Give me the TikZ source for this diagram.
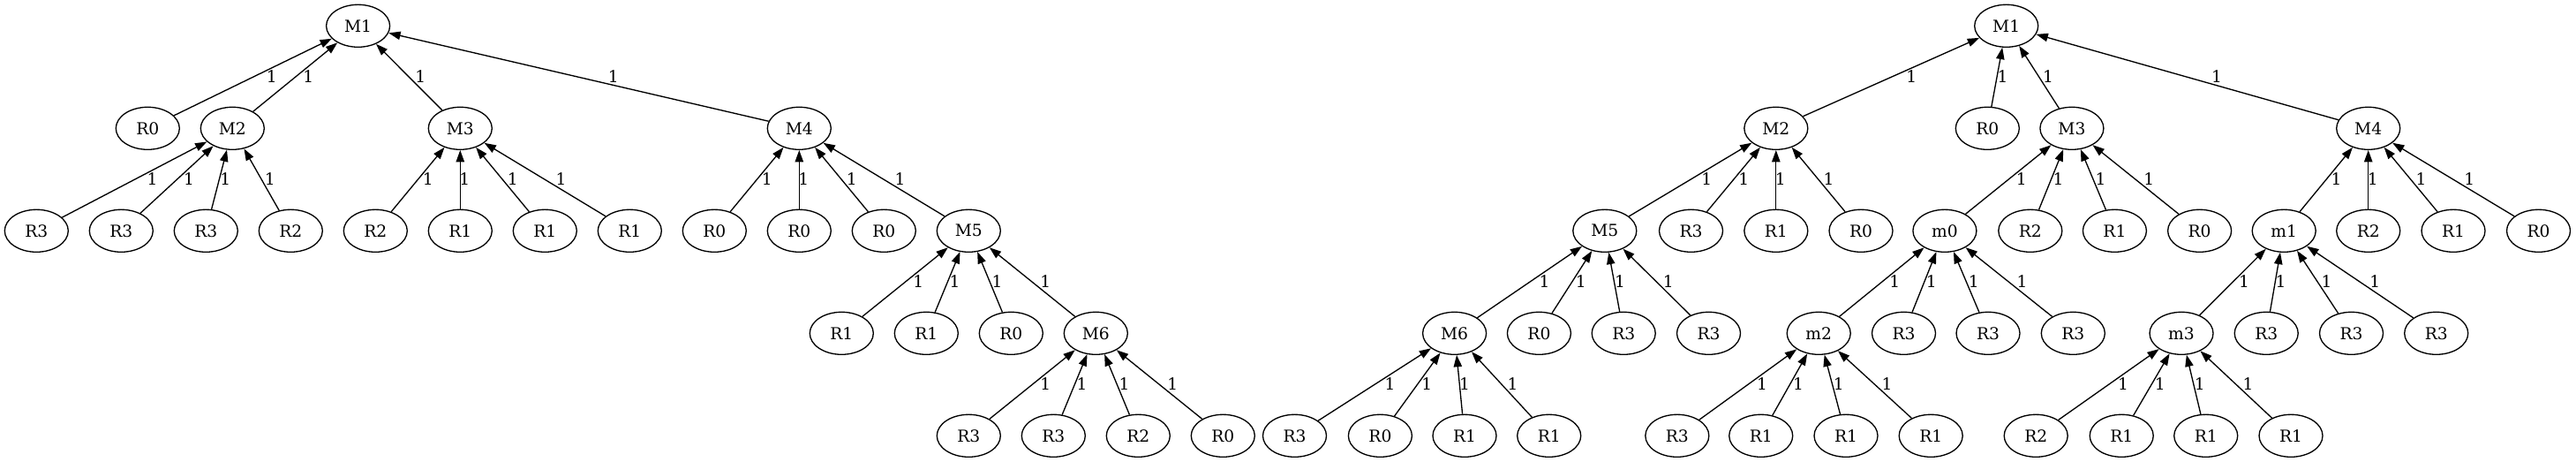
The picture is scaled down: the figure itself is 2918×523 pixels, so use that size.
\documentclass[tikz,border=0pt]{standalone}
\usepackage{fontspec}
\setmainfont{DejaVu Serif}
\usetikzlibrary{shapes.geometric,arrows.meta,calc}
\tikzset{
  tn/.style={draw, ellipse, line width=1pt, minimum width=54pt, minimum height=36pt, inner sep=0pt, font=\fontsize{14}{16}\selectfont},
  edge/.style={line width=1pt, -{Triangle[length=10pt,width=7pt]}},
  lbl/.style={inner sep=0pt, font=\fontsize{14}{16}\selectfont},
}
\newcommand\edg[2]{%
  \draw[edge] (#1) -- (#2);
  \path let \p1=(#1.center), \p2=(#2.center), \n1={abs(\x2-\x1)/abs(\y2-\y1)} in
    node[lbl, xshift={3.75pt+6pt*\n1}, yshift=0.5pt] at ($(#1.center)!0.5!(#2.center)$) {1};
}
\begin{document}
\begin{tikzpicture}[x=0.75pt, y=-0.75pt]
\useasboundingbox (0,0) rectangle (2918,523);
\def\ra{29.3}\def\rb{145.3}\def\rc{261.3}\def\rd{377.3}\def\re{493.3}
% ---------- left tree ----------
\node[tn] (aM1) at (405.6,\ra) {M1};
\node[tn] (aR0) at (167.3,\rb) {R0};
\node[tn] (aM2) at (263.3,\rb) {M2};
\node[tn] (aM3) at (521.3,\rb) {M3};
\node[tn] (aM4) at (905.3,\rb) {M4};
\node[tn] (a31) at (41.3,\rc) {R3};
\node[tn] (a32) at (137.3,\rc) {R3};
\node[tn] (a33) at (233.3,\rc) {R3};
\node[tn] (a34) at (329.3,\rc) {R2};
\node[tn] (a35) at (425.3,\rc) {R2};
\node[tn] (a36) at (521.3,\rc) {R1};
\node[tn] (a37) at (617.3,\rc) {R1};
\node[tn] (a38) at (713.3,\rc) {R1};
\node[tn] (a39) at (809.3,\rc) {R0};
\node[tn] (a310) at (905.3,\rc) {R0};
\node[tn] (a311) at (1001.3,\rc) {R0};
\node[tn] (aM5) at (1097.3,\rc) {M5};
\node[tn] (a41) at (953.3,\rd) {R1};
\node[tn] (a42) at (1049.3,\rd) {R1};
\node[tn] (a43) at (1145.3,\rd) {R0};
\node[tn] (aM6) at (1241.3,\rd) {M6};
\node[tn] (a51) at (1097.3,\re) {R3};
\node[tn] (a52) at (1193.3,\re) {R3};
\node[tn] (a53) at (1289.3,\re) {R2};
\node[tn] (a54) at (1385.3,\re) {R0};
\edg{aR0}{aM1}\edg{aM2}{aM1}\edg{aM3}{aM1}\edg{aM4}{aM1}
\edg{a31}{aM2}\edg{a32}{aM2}\edg{a33}{aM2}\edg{a34}{aM2}
\edg{a35}{aM3}\edg{a36}{aM3}\edg{a37}{aM3}\edg{a38}{aM3}
\edg{a39}{aM4}\edg{a310}{aM4}\edg{a311}{aM4}\edg{aM5}{aM4}
\edg{a41}{aM5}\edg{a42}{aM5}\edg{a43}{aM5}\edg{aM6}{aM5}
\edg{a51}{aM6}\edg{a52}{aM6}\edg{a53}{aM6}\edg{a54}{aM6}
% ---------- right tree ----------
\node[tn] (bM1) at (2272.7,\ra) {M1};
\node[tn] (bM2) at (2011.8,\rb) {M2};
\node[tn] (bR0) at (2251.3,\rb) {R0};
\node[tn] (bM3) at (2346.9,\rb) {M3};
\node[tn] (bM4) at (2682.7,\rb) {M4};
\node[tn] (bM5) at (1817.8,\rc) {M5};
\node[tn] (b32) at (1915.5,\rc) {R3};
\node[tn] (b33) at (2011.8,\rc) {R1};
\node[tn] (b34) at (2108,\rc) {R0};
\node[tn] (bm0) at (2202.9,\rc) {m0};
\node[tn] (b36) at (2299.8,\rc) {R2};
\node[tn] (b37) at (2395.4,\rc) {R1};
\node[tn] (b38) at (2491.6,\rc) {R0};
\node[tn] (bm1) at (2587.2,\rc) {m1};
\node[tn] (b310) at (2682.7,\rc) {R2};
\node[tn] (b311) at (2779,\rc) {R1};
\node[tn] (b312) at (2875.5,\rc) {R0};
\node[tn] (bM6) at (1647.6,\rd) {M6};
\node[tn] (b42) at (1743.4,\rd) {R0};
\node[tn] (b43) at (1839.2,\rd) {R3};
\node[tn] (b44) at (1935.5,\rd) {R3};
\node[tn] (bm2) at (2060.2,\rd) {m2};
\node[tn] (b46) at (2156.5,\rd) {R3};
\node[tn] (b47) at (2252,\rd) {R3};
\node[tn] (b48) at (2348.3,\rd) {R3};
\node[tn] (bm3) at (2471,\rd) {m3};
\node[tn] (b410) at (2567.2,\rd) {R3};
\node[tn] (b411) at (2663.5,\rd) {R3};
\node[tn] (b412) at (2759.7,\rd) {R3};
\node[tn] (b51) at (1466.5,\re) {R3};
\node[tn] (b52) at (1563.4,\re) {R0};
\node[tn] (b53) at (1659,\re) {R1};
\node[tn] (b54) at (1754.7,\re) {R1};
\node[tn] (b55) at (1899.8,\re) {R3};
\node[tn] (b56) at (1994.7,\re) {R1};
\node[tn] (b57) at (2091,\re) {R1};
\node[tn] (b58) at (2187.2,\re) {R1};
\node[tn] (b59) at (2306.2,\re) {R2};
\node[tn] (b510) at (2403.2,\re) {R1};
\node[tn] (b511) at (2498.7,\re) {R1};
\node[tn] (b512) at (2595,\re) {R1};
\edg{bM2}{bM1}\edg{bR0}{bM1}\edg{bM3}{bM1}\edg{bM4}{bM1}
\edg{bM5}{bM2}\edg{b32}{bM2}\edg{b33}{bM2}\edg{b34}{bM2}
\edg{bm0}{bM3}\edg{b36}{bM3}\edg{b37}{bM3}\edg{b38}{bM3}
\edg{bm1}{bM4}\edg{b310}{bM4}\edg{b311}{bM4}\edg{b312}{bM4}
\edg{bM6}{bM5}\edg{b42}{bM5}\edg{b43}{bM5}\edg{b44}{bM5}
\edg{bm2}{bm0}\edg{b46}{bm0}\edg{b47}{bm0}\edg{b48}{bm0}
\edg{bm3}{bm1}\edg{b410}{bm1}\edg{b411}{bm1}\edg{b412}{bm1}
\edg{b51}{bM6}\edg{b52}{bM6}\edg{b53}{bM6}\edg{b54}{bM6}
\edg{b55}{bm2}\edg{b56}{bm2}\edg{b57}{bm2}\edg{b58}{bm2}
\edg{b59}{bm3}\edg{b510}{bm3}\edg{b511}{bm3}\edg{b512}{bm3}
\end{tikzpicture}
\end{document}
